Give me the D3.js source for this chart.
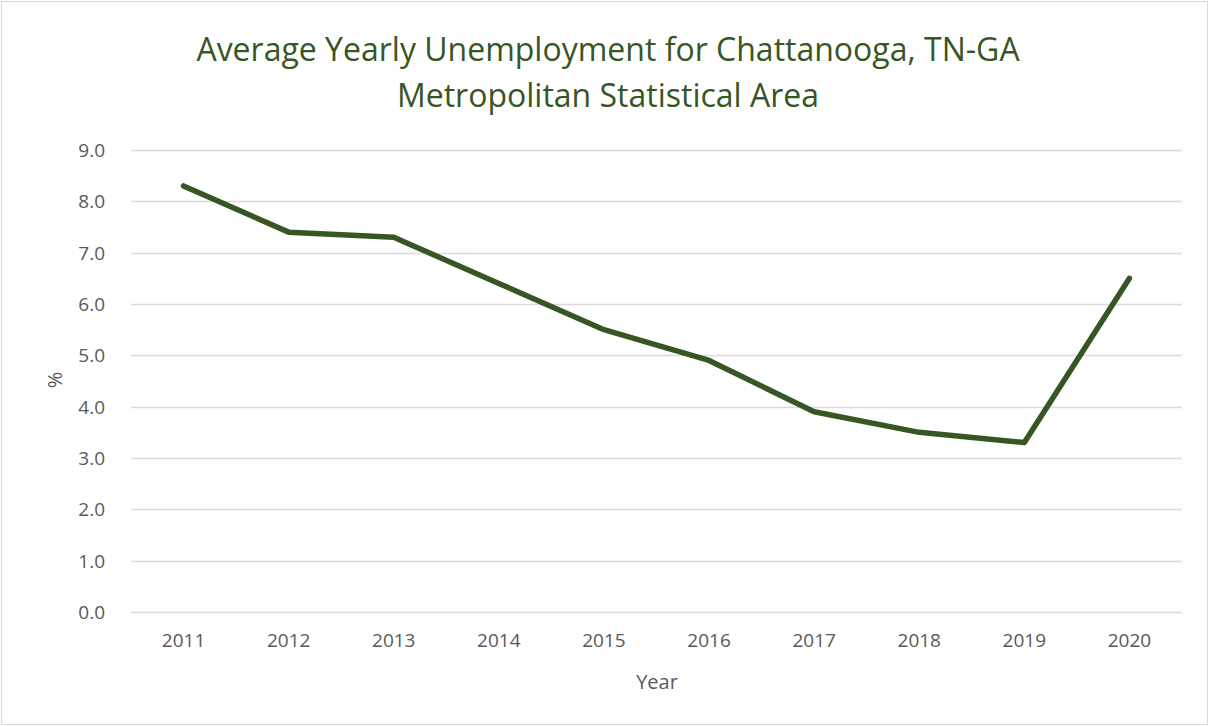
<!DOCTYPE html>
<meta charset="utf-8">
<style>
body { margin: 0; background: #fff; }
text { font-family: "Open Sans", "Noto Sans", sans-serif; }
</style>
<body>
<script src="https://d3js.org/d3.v7.min.js"></script>
<script>

const width = 1209,
    height = 726

const years = ['2011', '2012', '2013', '2014', '2015', '2016', '2017', '2018', '2019', '2020']
const rates = [8.3, 7.4, 7.3, 6.4, 5.5, 4.9, 3.9, 3.5, 3.3, 6.5]
const yTicks = [0, 1, 2, 3, 4, 5, 6, 7, 8, 9]
const titleLines = ['Average Yearly Unemployment for Chattanooga, TN-GA', 'Metropolitan Statistical Area']

const margin = { top: 150, right: 27, bottom: 114, left: 131 }

var svg = d3.select('body')
    .append('svg')
    .attr('width', width)
    .attr('height', height)

// outer chart border
svg.append('rect')
    .attr('x', 1.5).attr('y', 1.5)
    .attr('width', width - 3).attr('height', height - 3)
    .attr('fill', '#fff')
    .attr('stroke', '#d9d9d9')

var x = d3.scaleBand()
    .domain(years)
    .range([margin.left, width - margin.right])

var y = d3.scaleLinear()
    .domain([0, 9])
    .range([height - margin.bottom, margin.top])

// gridlines
svg.append('g')
    .selectAll('line')
    .data(yTicks)
    .enter().append('line')
    .attr('x1', margin.left)
    .attr('x2', width - margin.right)
    .attr('y1', function (d) { return Math.round(y(d)) + 0.5 })
    .attr('y2', function (d) { return Math.round(y(d)) + 0.5 })
    .attr('stroke', '#d9d9d9')
    .attr('stroke-width', 1.3)

var yAxis = svg.append('g')
    .attr('transform', 'translate(' + (margin.left - 23) + ',0)')
    .call(d3.axisLeft(y).tickValues(yTicks).tickFormat(d3.format('.1f')).tickSize(0))
yAxis.select('.domain').remove()
yAxis.selectAll('text')
    .attr('fill', '#595959')
    .style('font-size', '19px')
    .attr('dy', '0.35em')

var xAxis = svg.append('g')
    .attr('transform', 'translate(0,' + (height - margin.bottom + 19) + ')')
    .call(d3.axisBottom(x).tickSize(0))
xAxis.select('.domain').remove()
xAxis.selectAll('text')
    .attr('fill', '#595959')
    .style('font-size', '19px')
    .attr('dy', '0.7em')

var line = d3.line()
    .x(function (d, i) { return x(years[i]) + x.bandwidth() / 2 })
    .y(function (d) { return y(d) })

svg.append('path')
    .datum(rates)
    .attr('d', line)
    .attr('fill', 'none')
    .attr('stroke', '#375623')
    .attr('stroke-width', 5.5)
    .attr('stroke-linejoin', 'round')
    .attr('stroke-linecap', 'round')

svg.append('g')
    .selectAll('text')
    .data(titleLines)
    .enter().append('text')
    .attr('x', 608)
    .attr('y', function (d, i) { return 61 + i * 46 })
    .attr('text-anchor', 'middle')
    .attr('fill', '#375623')
    .style('font-size', '32px')
    .text(function (d) { return d })

svg.append('text')
    .attr('x', 657)
    .attr('y', 689)
    .attr('text-anchor', 'middle')
    .attr('fill', '#595959')
    .style('font-size', '20px')
    .text('Year')

svg.append('text')
    .attr('transform', 'translate(62,380) rotate(-90)')
    .attr('text-anchor', 'middle')
    .attr('fill', '#595959')
    .style('font-size', '20px')
    .text('%')

</script>
</body>
